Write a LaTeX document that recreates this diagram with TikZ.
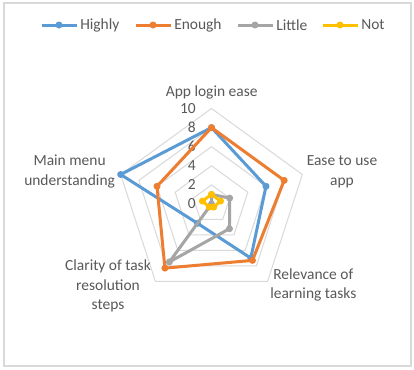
\documentclass[tikz,border=0pt]{standalone}
\usepackage{fontspec}
\setmainfont{Carlito}
\definecolor{cHigh}{HTML}{5B9BD5}
\definecolor{cEnough}{HTML}{ED7D31}
\definecolor{cLittle}{HTML}{A5A5A5}
\definecolor{cNot}{HTML}{FFC000}
\definecolor{cGrid}{HTML}{D9D9D9}
\definecolor{cText}{HTML}{595959}
\begin{document}
\begin{tikzpicture}[x=0.75pt,y=0.75pt,
  txt/.style={text=cText,inner sep=0pt,font=\fontsize{11.6}{14.6}\selectfont},
  cat/.style={txt,align=center},
  gridline/.style={draw=cGrid,line width=0.75pt},
  series/.style={line width=2.25pt,line join=round},
  frame/.style={draw=cGrid,line width=1.2pt}]
\useasboundingbox (0,0) rectangle (414,369);
\fill[white] (0,0) rectangle (414,369);
\draw[frame] (4,3) rectangle (411,366);
\def\u{9.55}
% legend
\foreach \nm/\col/\x/\lab in {lh/cHigh/59/Highly, le/cEnough/153/Enough, ll/cLittle/255/Little, ln/cNot/340/Not}{
  \coordinate (\nm a) at (\x-17,344);
  \coordinate (\nm b) at (\x+18,344);
  \coordinate (\nm m) at (\x,344);
  \draw[series,\col] (\nm a) -- (\nm b);
  \fill[\col] (\nm m) circle (3.5);
  \node[txt,anchor=west] (\nm t) at (\x+21,344) {\lab};
}
\begin{scope}[shift={(211.5,165)}]
\coordinate (c) at (0,0);
\foreach \v in {2,4,6,8,10}{
  \draw[gridline] (90:{\v*\u}) -- (18:{\v*\u}) -- (-54:{\v*\u}) -- (-126:{\v*\u}) -- (162:{\v*\u}) -- cycle;
}
\foreach \v in {0,2,...,10}{
  \node[txt,anchor=east] (n\v) at (-15.5,{\v*\u}) {\v};
}
\foreach \nm/\col/\a/\b/\c/\d/\e in {hi/cHigh/8/6/7/2.5/10, en/cEnough/8/8/7.3/8.3/6, li/cLittle/1/2/3.2/7.5/0, no/cNot/1/1/0.4/0.4/1}{
  \coordinate (\nm1) at (90:{\a*\u});
  \coordinate (\nm2) at (18:{\b*\u});
  \coordinate (\nm3) at (-54:{\c*\u});
  \coordinate (\nm4) at (-126:{\d*\u});
  \coordinate (\nm5) at (162:{\e*\u});
  \draw[series,\col] (\nm1) -- (\nm2) -- (\nm3) -- (\nm4) -- (\nm5) -- cycle;
  \foreach \k in {1,...,5}{\fill[\col] (\nm\k) circle (3.5);}
}
\end{scope}
\node[cat] (login) at (211.7,276.3) {App login ease};
\node[cat] (ease) at (342,197.3) {Ease to use\\app};
\node[cat] (relev) at (313.3,84.3) {Relevance of\\learning tasks};
\node[cat] (clar) at (108,83) {Clarity of task\\resolution\\steps};
\node[cat] (menu) at (69.6,197.6) {Main menu\\understanding};
\end{tikzpicture}
\end{document}
